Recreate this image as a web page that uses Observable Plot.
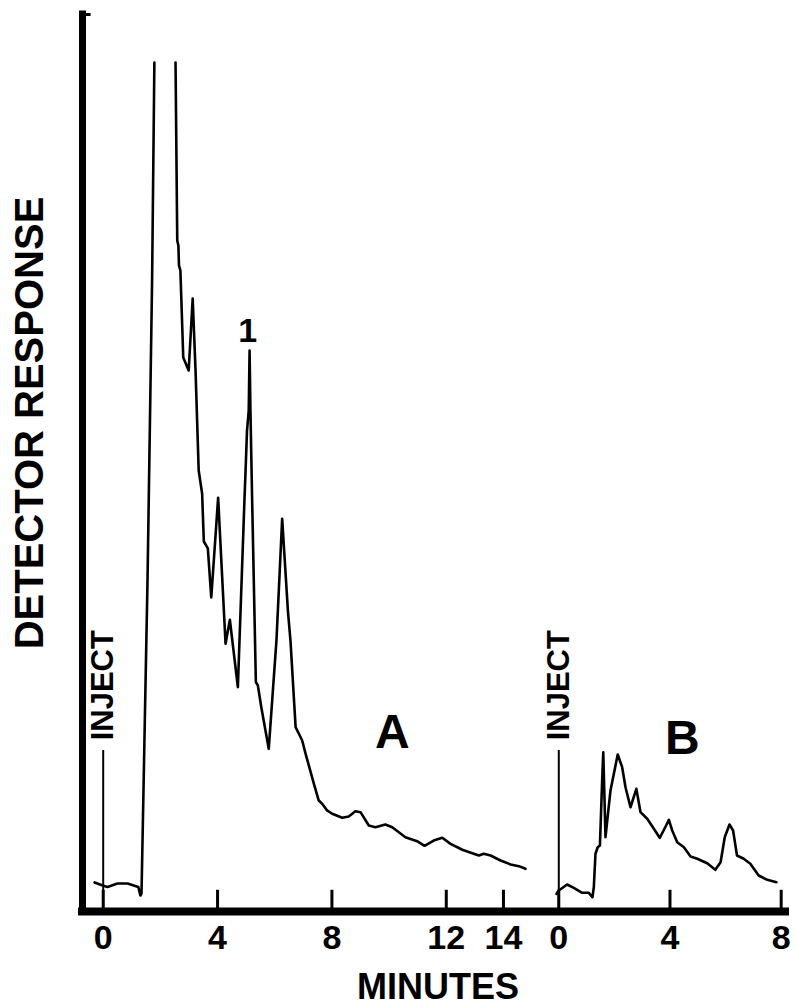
<!DOCTYPE html>
<html><head><meta charset="utf-8">
<script src="https://cdn.jsdelivr.net/npm/d3@7"></script>
<script src="https://cdn.jsdelivr.net/npm/@observablehq/plot@0.6"></script>
<style>body{margin:0;background:#fff} svg{display:block;overflow:visible}</style>
</head><body><div id="chart"></div>
<script>
// Chromatogram A (minutes after injection, detector response in % of full scale; null = pen off scale)
const timeA = [-0.30,-0.02,0.15,0.50,0.85,1.23,1.30,1.34,1.55,1.71,1.79,2.16,2.53,2.59,2.63,2.65,2.70,2.80,2.99,3.13,3.23,3.34,3.46,3.52,3.66,3.78,4.02,4.28,4.43,4.71,4.94,4.98,5.03,5.09,5.12,5.15,5.21,5.34,5.41,5.53,5.79,6.06,6.26,6.46,6.55,6.73,6.96,7.08,7.37,7.54,7.66,7.83,8.01,8.36,8.59,8.82,9.00,9.29,9.52,9.87,10.11,10.57,10.98,11.24,11.56,11.86,12.15,12.56,12.91,13.14,13.31,13.55,13.90,14.25,14.54,14.77];
const respA = [3.42,3.06,2.89,3.30,3.30,2.89,1.88,2.12,38.99,74.32,100,null,100,79.03,78.44,76.09,75.50,65.25,63.72,72.20,63.72,51.94,49.23,43.58,42.76,36.98,48.73,31.53,34.36,26.42,48.41,51.94,56.65,59.01,66.08,59.01,48.41,27.01,26.62,24.06,19.16,31.92,46.25,35.45,31.92,21.71,20.14,18.57,15.04,13.07,12.69,11.90,11.51,11.04,11.19,11.81,11.70,10.13,9.93,10.25,9.93,8.75,8.28,7.74,8.36,8.68,7.97,7.27,6.87,6.60,6.80,6.60,6.01,5.54,5.34,5.03];
// Chromatogram B
const timeB = [-0.08,0.00,0.30,0.54,0.84,1.08,1.21,1.26,1.32,1.40,1.48,1.56,1.60,1.68,1.86,2.12,2.28,2.40,2.58,2.79,2.94,3.18,3.42,3.63,3.77,3.96,4.08,4.26,4.50,4.74,4.98,5.34,5.63,5.82,5.97,6.14,6.27,6.41,6.65,6.89,7.19,7.50,7.83];
const respB = [2.08,2.47,3.18,2.79,2.20,2.20,1.68,2.86,6.80,7.57,7.77,15.43,18.76,8.75,14.25,18.49,17.00,14.64,12.28,14.45,11.70,10.92,9.74,8.68,9.54,10.80,9.54,8.16,7.57,6.48,6.21,5.69,4.91,5.81,8.75,10.25,9.54,6.60,6.21,5.62,4.24,3.73,3.45];
// Axis ticks (minutes)
const ticksA = [0, 4, 8, 12, 14];
const ticksB = [0, 4, 8];
// Annotations
const injectTop = 18.96;      // top of the inject markers (response units)
const injectLabel = "INJECT";
const peakLabel = {text: "1", t: 5.12, r: 66.08};
const panelLabels = [
  {text: "A", panel: "A", t: 10.11, r: 19.2},
  {text: "B", panel: "B", t: 4.44, r: 18.6}
];
const xTitle = "MINUTES";
const yTitle = "DETECTOR RESPONSE";

// Layout of panel B on the shared time axis
const B_OFFSET = 15.935, B_STRETCH = 0.9724;
const posB = t => B_OFFSET + t * B_STRETCH;
const xMin = -0.724, xMax = 23.865, yMax = 105.65;

const traceA = timeA.map((t, i) => ({x: t, y: respA[i]}));
const traceB = timeB.map((t, i) => ({x: posB(t), y: respB[i]}));
const tickPos = [...ticksA, ...ticksB.map(posB)];
const tickLab = [...ticksA, ...ticksB].map(String);
const injectPos = [0, posB(0)];
const font = "'Liberation Sans', Arial, Helvetica, sans-serif";

const chart = Plot.plot({
  width: 796, height: 1007,
  marginLeft: 82, marginRight: 11, marginTop: 14, marginBottom: 96,
  style: {fontFamily: font, background: "#fff", color: "#000"},
  x: {domain: [xMin, xMax], axis: null},
  y: {domain: [0, yMax], axis: null},
  marks: [
    // axes lines
    Plot.ruleX([xMin], {y1: 0, y2: yMax, stroke: "#000", strokeWidth: 7, strokeLinecap: "square"}),
    Plot.ruleY([yMax], {x1: xMin, x2: xMin + 0.3, stroke: "#000", strokeWidth: 3}),
    Plot.ruleY([0], {x1: xMin, x2: xMax, stroke: "#000", strokeWidth: 8, strokeLinecap: "square"}),
    Plot.ruleX(tickPos, {y1: 0, y2: 2.5, stroke: "#000", strokeWidth: 3}),
    Plot.axisX(tickPos, {tickSize: 0, tickPadding: 13, tickFormat: (d, i) => tickLab[i], fontSize: 34, fontWeight: "bold", label: null}),
    // inject markers
    Plot.ruleX(injectPos, {y1: 0, y2: injectTop, stroke: "#000", strokeWidth: 2}),
    Plot.text(injectPos, {x: d => d, y: injectTop + 1.2, text: () => injectLabel, rotate: -90, textAnchor: "start", lineAnchor: "middle", fontSize: 31, fontWeight: "bold"}),
    // traces
    Plot.line(traceA, {x: "x", y: "y", stroke: "#000", strokeWidth: 2.6, strokeLinejoin: "round"}),
    Plot.line(traceB, {x: "x", y: "y", stroke: "#000", strokeWidth: 2.6, strokeLinejoin: "round"}),
    // labels
    Plot.text([peakLabel], {x: "t", y: "r", text: "text", lineAnchor: "bottom", dy: -8, dx: -2, fontSize: 34, fontWeight: "bold"}),
    Plot.text(panelLabels, {x: d => d.panel === "A" ? d.t : posB(d.t), y: "r", text: "text", lineAnchor: "bottom", fontSize: 48, fontWeight: "bold"}),
    Plot.text([xTitle], {frameAnchor: "bottom", dx: 4, dy: 76, lineAnchor: "middle", textAnchor: "middle", fontSize: 36, fontWeight: "bold"}),
    Plot.text([yTitle], {frameAnchor: "left", dx: -52, dy: -40, rotate: -90, textAnchor: "middle", lineAnchor: "middle", fontSize: 40, fontWeight: "bold"})
  ]
});
document.getElementById("chart").appendChild(chart);
</script>
</body></html>
